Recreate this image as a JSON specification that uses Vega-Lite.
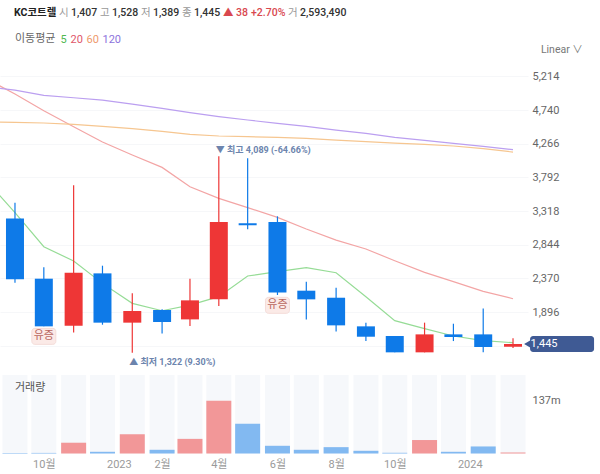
{
"$schema":"https://vega.github.io/schema/vega-lite/v6.json",
"width":528,"height":455,
"autosize":{"type":"none"},
"padding":{"left":0,"top":0,"right":72,"bottom":19},
"background":"white",
"config":{"view":{"stroke":null},"font":"Roboto, 'Noto Sans CJK KR'","text":{"font":"Roboto, 'Noto Sans CJK KR'"}},
"datasets":{
"candles":[
{"date":"2022-09-15","open":3214,"high":3435,"low":2309,"close":2356,"volume":1.5,"dir":"down"},
{"date":"2022-10-15","open":2365,"high":2525,"low":1694,"close":1694,"volume":1.5,"dir":"down"},
{"date":"2022-11-15","open":1703,"high":3679,"low":1609,"close":2449,"volume":28,"dir":"up"},
{"date":"2022-12-15","open":2440,"high":2548,"low":1717,"close":1746,"volume":4.4,"dir":"down"},
{"date":"2023-01-15","open":1746,"high":2159,"low":1322,"close":1910,"volume":50,"dir":"up"},
{"date":"2023-02-15","open":1924,"high":1933,"low":1595,"close":1755,"volume":9.6,"dir":"down"},
{"date":"2023-03-16","open":1792,"high":2365,"low":1699,"close":2060,"volume":38,"dir":"up"},
{"date":"2023-04-15","open":2074,"high":4089,"low":1980,"close":3163,"volume":137,"dir":"up"},
{"date":"2023-05-15","open":3144,"high":4060,"low":3060,"close":3116,"volume":77.5,"dir":"down"},
{"date":"2023-06-15","open":3163,"high":3243,"low":2135,"close":2172,"volume":20,"dir":"down"},
{"date":"2023-07-15","open":2196,"high":2323,"low":1792,"close":2074,"volume":9.6,"dir":"down"},
{"date":"2023-08-15","open":2097,"high":2238,"low":1623,"close":1708,"volume":16.5,"dir":"down"},
{"date":"2023-09-15","open":1694,"high":1746,"low":1487,"close":1548,"volume":7,"dir":"down"},
{"date":"2023-10-15","open":1558,"high":1558,"low":1328,"close":1328,"volume":1.8,"dir":"down"},
{"date":"2023-11-15","open":1328,"high":1746,"low":1328,"close":1581,"volume":35,"dir":"up"},
{"date":"2023-12-15","open":1581,"high":1731,"low":1487,"close":1544,"volume":4.4,"dir":"down"},
{"date":"2024-01-15","open":1581,"high":1947,"low":1328,"close":1403,"volume":18.3,"dir":"down"},
{"date":"2024-02-15","open":1407,"high":1528,"low":1389,"close":1445,"volume":2.59,"dir":"up"}
],
"ma":[
{"date":"2022-08-15","period":"5","value":3763},{"date":"2022-09-15","period":"5","value":3294},{"date":"2022-10-15","period":"5","value":2815},{"date":"2022-11-15","period":"5","value":2614},{"date":"2022-12-15","period":"5","value":2299},{"date":"2023-01-15","period":"5","value":2018},{"date":"2023-02-15","period":"5","value":1914},{"date":"2023-03-16","period":"5","value":1994},{"date":"2023-04-15","period":"5","value":2112},{"date":"2023-05-15","period":"5","value":2403},{"date":"2023-06-15","period":"5","value":2464},{"date":"2023-07-15","period":"5","value":2520},{"date":"2023-08-15","period":"5","value":2449},{"date":"2023-09-15","period":"5","value":2112},{"date":"2023-10-15","period":"5","value":1774},{"date":"2023-11-15","period":"5","value":1661},{"date":"2023-12-15","period":"5","value":1558},{"date":"2024-01-15","period":"5","value":1492},{"date":"2024-02-15","period":"5","value":1464},
{"date":"2022-08-15","period":"20","value":5190},{"date":"2022-09-15","period":"20","value":4965},{"date":"2022-10-15","period":"20","value":4730},{"date":"2022-11-15","period":"20","value":4505},{"date":"2022-12-15","period":"20","value":4289},{"date":"2023-01-15","period":"20","value":4106},{"date":"2023-02-15","period":"20","value":3932},{"date":"2023-03-16","period":"20","value":3660},{"date":"2023-04-15","period":"20","value":3496},{"date":"2023-05-15","period":"20","value":3365},{"date":"2023-06-15","period":"20","value":3229},{"date":"2023-07-15","period":"20","value":3064},{"date":"2023-08-15","period":"20","value":2909},{"date":"2023-09-15","period":"20","value":2783},{"date":"2023-10-15","period":"20","value":2618},{"date":"2023-11-15","period":"20","value":2454},{"date":"2023-12-15","period":"20","value":2323},{"date":"2024-01-15","period":"20","value":2187},{"date":"2024-02-15","period":"20","value":2083},
{"date":"2022-08-15","period":"60","value":4575},{"date":"2022-09-15","period":"60","value":4566},{"date":"2022-10-15","period":"60","value":4557},{"date":"2022-11-15","period":"60","value":4538},{"date":"2022-12-15","period":"60","value":4510},{"date":"2023-01-15","period":"60","value":4477},{"date":"2023-02-15","period":"60","value":4439},{"date":"2023-03-16","period":"60","value":4397},{"date":"2023-04-15","period":"60","value":4374},{"date":"2023-05-15","period":"60","value":4364},{"date":"2023-06-15","period":"60","value":4355},{"date":"2023-07-15","period":"60","value":4341},{"date":"2023-08-15","period":"60","value":4317},{"date":"2023-09-15","period":"60","value":4294},{"date":"2023-10-15","period":"60","value":4275},{"date":"2023-11-15","period":"60","value":4256},{"date":"2023-12-15","period":"60","value":4233},{"date":"2024-01-15","period":"60","value":4195},{"date":"2024-02-15","period":"60","value":4148},
{"date":"2022-08-15","period":"120","value":5068},{"date":"2022-09-15","period":"120","value":5021},{"date":"2022-10-15","period":"120","value":4946},{"date":"2022-11-15","period":"120","value":4913},{"date":"2022-12-15","period":"120","value":4880},{"date":"2023-01-15","period":"120","value":4824},{"date":"2023-02-15","period":"120","value":4763},{"date":"2023-03-16","period":"120","value":4702},{"date":"2023-04-15","period":"120","value":4646},{"date":"2023-05-15","period":"120","value":4599},{"date":"2023-06-15","period":"120","value":4552},{"date":"2023-07-15","period":"120","value":4510},{"date":"2023-08-15","period":"120","value":4458},{"date":"2023-09-15","period":"120","value":4411},{"date":"2023-10-15","period":"120","value":4355},{"date":"2023-11-15","period":"120","value":4313},{"date":"2023-12-15","period":"120","value":4270},{"date":"2024-01-15","period":"120","value":4228},{"date":"2024-02-15","period":"120","value":4181}
],
"header":[{"part":"KC코트렐"},{"part":"시"},{"part":"1,407"},{"part":"고"},{"part":"1,528"},{"part":"저"},{"part":"1,389"},{"part":"종"},{"part":"1,445"},{"part":"▲ 38"},{"part":"+2.70%"},{"part":"거"},{"part":"2,593,490"}],
"badges":[{"date":"2022-10-15","price":1553,"label":"유증"},{"date":"2023-06-15","price":1990,"label":"유증"}],
"extremes":[{"date":"2023-04-15","price":4089,"label":"▼ 최고 4,089 (-64.66%)","kind":"high"},{"date":"2023-01-15","price":1322,"label":"▲ 최저 1,322 (9.30%)","kind":"low"}],
"tag":[{"date":"2024-04-06","price":1445,"label":"1,445"}],
"scaleName":[{"date":"2024-03-15","price":5585,"label":"Linear ∨"}],
"volName":[{"date":"2022-09-15","volume":171,"label":"거래량"}]
},
"encoding":{"x":{"field":"date","type":"temporal","scale":{"type":"utc","nice":false,"padding":0,"domain":["2022-08-30T10:00:00Z","2024-03-01T14:00:00Z"]},
"axis":{"orient":"bottom","title":null,"grid":false,"domain":false,"ticks":false,"labelFontSize":11,"labelColor":"#9a9a9a","labelPadding":3,"labelOverlap":false,
"values":[{"year":2022,"month":10,"date":15,"utc":true},{"year":2023,"month":1,"date":1,"utc":true},{"year":2023,"month":2,"date":15,"utc":true},{"year":2023,"month":4,"date":15,"utc":true},{"year":2023,"month":6,"date":15,"utc":true},{"year":2023,"month":8,"date":15,"utc":true},{"year":2023,"month":10,"date":15,"utc":true},{"year":2024,"month":1,"date":1,"utc":true}],
"labelExpr":"utcmonth(datum.value)==0 ? utcyear(datum.value)+'' : (utcmonth(datum.value)+1)+'월'"}}},
"layer":[
{"layer":[
{"data":{"name":"candles"},"mark":{"type":"bar","size":25,"fill":"#f6f8fb"},"encoding":{"y":{"datum":204,"type":"quantitative","scale":{"domain":[0,204],"range":[453.5,375],"nice":false},"axis":{"orient":"right","title":null,"values":[137],"labelExpr":"'137m'","grid":false,"domain":false,"ticks":false,"labelFontSize":11,"labelColor":"#666666","labelPadding":4}},"y2":{"datum":0}}},
{"data":{"name":"candles"},"mark":{"type":"bar","size":25,"opacity":0.5},"encoding":{"y":{"field":"volume","type":"quantitative"},"y2":{"datum":0},"color":{"field":"dir","type":"nominal","scale":{"domain":["up","down"],"range":["#ee3636","#0e7ae8"]},"legend":null}}},
{"data":{"name":"volName"},"mark":{"type":"text","align":"left","fontSize":11,"color":"#555555"},"encoding":{"y":{"field":"volume","type":"quantitative"},"text":{"field":"label"}}}
]},
{"layer":[
{"data":{"name":"ma"},"mark":{"type":"line","clip":true,"strokeWidth":1.2},"encoding":{"y":{"field":"value","type":"quantitative","scale":{"domain":[1009,6289],"range":[375,0],"nice":false,"zero":false},"axis":{"orient":"right","title":null,"values":[5214,4740,4266,3792,3318,2844,2370,1896,1422],"labelExpr":"datum.value<1500 ? '' : format(datum.value,',')","grid":true,"gridColor":"#f6f7f9","domain":false,"ticks":false,"labelFontSize":11,"labelColor":"#666666","labelPadding":4}},
"stroke":{"field":"period","type":"nominal","scale":{"domain":["5","20","60","120"],"range":["#96dc96","#f3a5a5","#f6c690","#bb9ff0"]},
"legend":{"orient":"none","legendX":15,"legendY":34,"direction":"horizontal","columns":4,"title":"이동평균","titleOrient":"left","titleFontSize":11,"titleFontWeight":"normal","titleColor":"#666666","titlePadding":5,"symbolSize":0.1,"symbolStrokeWidth":0,"labelOffset":-11.5,"columnPadding":3,"labelFontSize":11,"labelColor":{"expr":"datum.value=='5' ? '#4fb84f' : datum.value=='20' ? '#e0566a' : datum.value=='60' ? '#ee9a6c' : '#8d73dc'"}}}}},
{"data":{"name":"candles"},"mark":{"type":"rule","strokeWidth":1.2},"encoding":{"y":{"field":"low","type":"quantitative"},"y2":{"field":"high"},"color":{"field":"dir","type":"nominal"}}},
{"data":{"name":"candles"},"mark":{"type":"bar","size":18},"encoding":{"y":{"field":"open","type":"quantitative"},"y2":{"field":"close"},"color":{"field":"dir","type":"nominal"}}},
{"data":{"name":"badges"},"mark":{"type":"rect","width":24,"height":16,"cornerRadius":3,"fill":"#fbeae7","stroke":"#f4dcd8"},"encoding":{"y":{"field":"price","type":"quantitative"}}},
{"data":{"name":"badges"},"mark":{"type":"text","fontSize":11,"color":"#b9675f"},"encoding":{"y":{"field":"price","type":"quantitative"},"text":{"field":"label"}}},
{"data":{"name":"extremes"},"transform":[{"filter":"datum.kind=='high'"}],"mark":{"type":"text","align":"left","dx":-3,"dy":-6,"fontSize":9,"fontWeight":"bold","color":"#6c84ad"},"encoding":{"y":{"field":"price","type":"quantitative"},"text":{"field":"label"}}},
{"data":{"name":"extremes"},"transform":[{"filter":"datum.kind=='low'"}],"mark":{"type":"text","align":"left","dx":-3,"dy":9,"fontSize":9,"fontWeight":"bold","color":"#6c84ad"},"encoding":{"y":{"field":"price","type":"quantitative"},"text":{"field":"label"}}},
{"data":{"name":"tag"},"mark":{"type":"rect","width":64,"height":16,"cornerRadius":3,"fill":"#3f5a94"},"encoding":{"y":{"field":"price","type":"quantitative"}}},
{"data":{"name":"tag"},"mark":{"type":"point","shape":"triangle-left","filled":true,"size":130,"xOffset":-33,"opacity":1,"color":"#3f5a94"},"encoding":{"y":{"field":"price","type":"quantitative"}}},
{"data":{"name":"tag"},"mark":{"type":"text","fontSize":11,"color":"#ffffff","xOffset":-18},"encoding":{"y":{"field":"price","type":"quantitative"},"text":{"field":"label"}}},
{"data":{"name":"scaleName"},"mark":{"type":"text","align":"left","fontSize":10.5,"color":"#777777"},"encoding":{"y":{"field":"price","type":"quantitative"},"text":{"field":"label"}}},
{"data":{"name":"header"},"mark":{"type":"text","text":""},"encoding":{"x":{"datum":null},"fill":{"field":"part","type":"nominal","scale":{"domain":["KC코트렐","시","1,407","고","1,528","저","1,389","종","1,445","▲ 38","+2.70%","거","2,593,490"],"range":["#222222","#999999","#333333","#999999","#333333","#999999","#333333","#999999","#333333","#d9484f","#d9484f","#999999","#333333"]},
"legend":{"orient":"none","legendX":15,"legendY":8,"direction":"horizontal","columns":13,"title":null,"symbolSize":0.1,"symbolStrokeWidth":0,"labelOffset":-11.5,"columnPadding":2,"labelFontSize":10.5,"labelLimit":200,"labelFontWeight":{"expr":"test(/^KC/,datum.value) ? 'bold' : test(/[0-9]/,datum.value) ? 500 : 'normal'"},"labelColor":{"expr":"test(/[▲+]/,datum.value) ? '#d9484f' : test(/^KC/,datum.value) ? '#222222' : test(/[0-9]/,datum.value) ? '#333333' : '#999999'"}}}}}
]}
],
"resolve":{"scale":{"y":"independent"},"axis":{"y":"independent"}}
}
